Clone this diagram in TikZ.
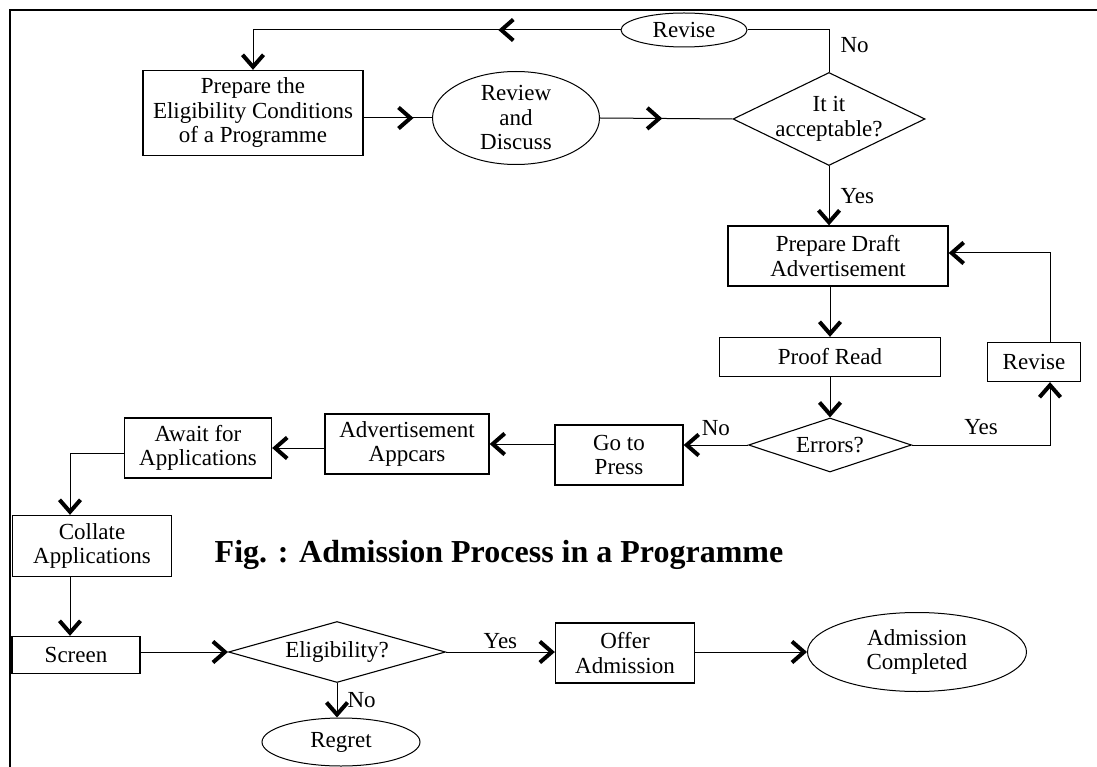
\documentclass[tikz,border=0pt]{standalone}
\usepackage{fontspec}
\setmainfont{Liberation Serif}
\usetikzlibrary{shapes.geometric,arrows.meta,decorations.markings}

\tikzset{
  chev/.tip={Straight Barb[length=12pt,width=21pt,line width=4pt]},
  box/.style={draw, line width=1.3pt, align=center, inner sep=0pt},
  oval/.style={draw, ellipse, line width=1pt, align=center, inner sep=0pt},
  decide/.style={draw, diamond, line width=1.1pt, align=center, inner sep=0pt},
  link/.style={line width=1pt},
  flow/.style={link, -chev},
  midflow/.style={postaction={decorate},
    decoration={markings, mark=at position #1 with {\arrow{chev}}}},
  tag/.style={inner sep=0pt}
}

\begin{document}
\begin{tikzpicture}[x=1pt, y=-1pt, font=\fontsize{23}{24.5}\selectfont]
    \useasboundingbox (0,0) rectangle (1097,767);
    % frame
    \draw[line width=2pt] (10,767) -- (10,10) -- (1097,10);
    % first stage
    \node[box, minimum width=220, minimum height=85] (prep) at (253,113)
    {Prepare the\\Eligibility Conditions\\of a Programme};
    \node[oval, minimum width=167, minimum height=93, inner ysep=-6pt] (review) at (516,118)
    {Review\\and\\Discuss};
    \node[decide, minimum width=192, minimum height=93, shape aspect=2, inner ysep=-8pt] (accept) at (829,119)
    {It it\\acceptable?};
    \node[oval, minimum width=126, minimum height=34] (revtop) at (684,30) {Revise};
    % advertisement stage
    \node[box, minimum width=220, minimum height=60] (draft) at (838,256)
    {Prepare Draft\\Advertisement};
    \node[box, minimum width=221, minimum height=39] (proof) at (830,357) {Proof Read};
    \node[decide, minimum width=163, minimum height=54, shape aspect=3] (errors) at (830,445) {Errors?};
    \node[box, minimum width=93, minimum height=39] (revise) at (1034,362) {Revise};
    \node[box, minimum width=128, minimum height=60] (press) at (619,455) {Go to\\Press};
    \node[box, minimum width=164, minimum height=60] (appears) at (407,444) {Advertisement\\Appcars};
    \node[box, minimum width=147, minimum height=60] (await) at (198,448) {Await for\\Applications};
    % selection stage
    \node[box, minimum width=159, minimum height=61] (collate) at (92,546) {Collate\\Applications};
    \node[box, minimum width=128, minimum height=37] (screen) at (76,655) {Screen};
    \node[decide, minimum width=217, minimum height=61, shape aspect=3.5] (elig) at (337,652) {Eligibility?};
    \node[oval, minimum width=158, minimum height=48] (regret) at (341,742) {Regret};
    \node[box, minimum width=139, minimum height=60] (offer) at (625,653) {Offer\\Admission};
    \node[oval, minimum width=219, minimum height=79] (done) at (917,652) {Admission\\Completed};
    % caption
    \node[font=\fontsize{32}{36}\selectfont\bfseries] (title) at (499,555)
    {Fig. : Admission Process in a Programme};
    % revise loop on top
    \draw[link] (accept.north) -- node[tag, pos=0.65, right=11pt] {No}
    (accept.north |- revtop.east) -- (revtop.east);
    \draw[flow, midflow=0.3] (revtop.west) -- (prep.north |- revtop.west) -- (prep.north);
    \draw[link, midflow=0.73] (prep.east |- review.west) -- (review.west);
    \draw[link, midflow=0.47] (review.east) -- (accept.west);
    % draft and proof reading
    \draw[flow] (accept.south) -- node[tag, right=11pt] {Yes} (accept.south |- draft.north);
    \draw[flow] (proof.north |- draft.south) -- (proof.north);
    \draw[flow] (proof.south) -- (errors.north);
    \coordinate (rvbot) at ([xshift=16pt]revise.south);
    \coordinate (rvtop) at ([xshift=16pt]revise.north);
    \draw[flow] (errors.east) -- node[tag, above=10pt] {Yes} (errors.east -| rvbot) -- (rvbot);
    \draw[flow] (rvtop) |- ([yshift=3pt]draft.east);
    \draw[flow] (errors.west) -- node[tag, above=9pt] {No} (errors.west -| press.east);
    % going to press
    \draw[flow] (press.west |- appears.east) -- (appears.east);
    \draw[flow] (appears.west |- await.east) -- (await.east);
    \draw[flow] ([yshift=-5pt]await.west) -| ([xshift=-22pt]collate.north);
    \draw[flow] ([xshift=-22pt]collate.south) -- ([xshift=-22pt]collate.south |- screen.north);
    % screening
    \draw[flow] (screen.east |- elig.west) -- (elig.west);
    \draw[flow] (elig.east) -- node[tag, above=3pt] {Yes} (elig.east -| offer.west);
    \draw[flow] (offer.east |- done.west) -- (done.west);
    \draw[flow] (elig.south) -- node[tag, right=10pt] {No} (elig.south |- regret.north);
\end{tikzpicture}
\end{document}
